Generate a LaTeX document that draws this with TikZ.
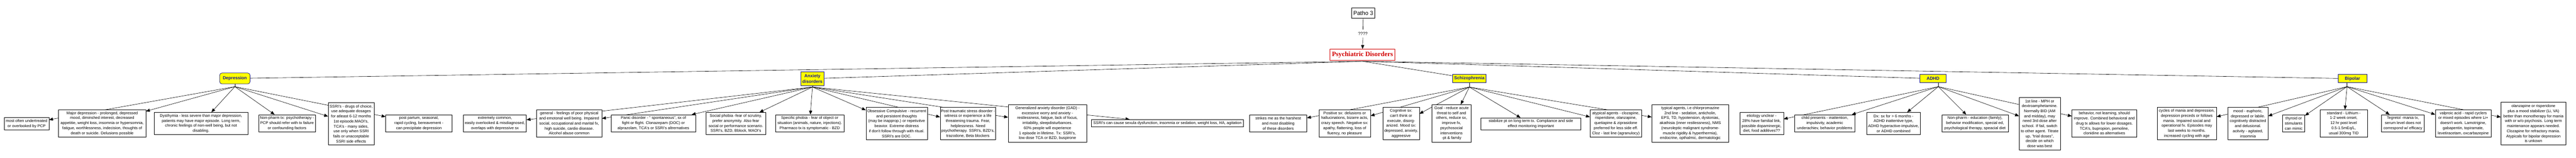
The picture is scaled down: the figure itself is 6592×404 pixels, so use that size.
\documentclass[tikz,border=0pt]{standalone}
\usepackage{fontspec}
\newfontfamily\arial{Liberation Sans}
\newfontfamily\pdfont{Liberation Serif}
\usetikzlibrary{arrows.meta}
\pgfdeclarelayer{bg}
\pgfdeclarelayer{canvas}
\pgfsetlayers{canvas,bg,main}
\definecolor{catblue}{RGB}{20,20,150}
\definecolor{catyellow}{RGB}{255,255,0}
\definecolor{pdred}{RGB}{210,0,0}
\tikzset{
 box/.style={draw=black, line width=0.8pt, fill=white, inner sep=0pt, align=center, font=\arial\fontsize{10}{12.8}\selectfont, text=black},
 cat/.style={draw=catblue, line width=1pt, fill=catyellow, inner sep=0pt, align=center, font=\arial\fontsize{11.3}{13.5}\selectfont\bfseries, text=catblue},
 conn/.style={line width=0.8pt, draw=black},
 arr/.style={conn, -{Triangle[length=10pt,width=8pt]}},
}
\begin{document}
\begin{tikzpicture}[x=1pt,y=-1pt]
\begin{pgfonlayer}{canvas}
\fill[white] (0,0) rectangle (6592,404);
\end{pgfonlayer}
\useasboundingbox (0,0) rectangle (6592,404);

% top
\node[box, font=\arial\fontsize{14.7}{16}\selectfont, minimum width=59pt, minimum height=27pt] (patho) at (3488.5,33.5) {Patho 3};
\node[inner xsep=2pt, inner ysep=6pt, font=\arial\fontsize{11}{12}\selectfont] (q) at (3487.5,86) {????};
\node[box, draw=pdred, line width=1pt, text=pdred, font=\pdfont\bfseries\fontsize{17}{19}\selectfont, minimum width=167pt, minimum height=29pt] (pd) at (3486.5,140.5) {Psychiatric Disorders};
\coordinate (pdF) at (3487,157);

% categories
\node[cat, rounded corners=6pt, minimum width=78pt, minimum height=28pt] (dep) at (601,201) {Depression};
\node[cat, minimum width=60pt, minimum height=35pt, font=\arial\fontsize{11.3}{13.5}\selectfont\bfseries] (anx) at (2079,201.5) {Anxiety\\disorders};
\node[cat, minimum width=86pt, minimum height=20pt] (sch) at (3760,201) {Schizophrenia};
\node[cat, minimum width=67pt, minimum height=21pt] (adhd) at (4946.5,201.5) {ADHD};
\node[cat, minimum width=74pt, minimum height=21pt] (bip) at (6020,201.5) {Bipolar};
\coordinate (depF) at (601,222);
\coordinate (anxF) at (2079,223);
\coordinate (schF) at (3760,223);
\coordinate (adhdF) at (4960,222);
\coordinate (bipF) at (6006,222);

% depression
\node[box, minimum width=114pt, minimum height=32pt] (often) at (68,317) {most often undertreated\\or overlooked by PCP};
\node[box, minimum width=223pt, minimum height=70pt] (major) at (261.5,316) {Major depression - prolonged, depressed\\mood, diminshed interest, decreased\\appetitie, weight loss, insomnia or hypersomnia,\\fatigue, worthlessness, indecision, thoughts of\\death or suicide. Delusions possible};
\node[box, minimum width=241pt, minimum height=57pt] (dysth) at (514.5,316.5) {Dysthymia - less severe than major depression,\\patients may have major episode. Long term,\\chronic feelings of non-well being, but not\\disabling.};
\node[box, minimum width=145pt, minimum height=44pt] (nonph) at (734.5,316) {Non-pharm tx: psychotherapy -\\PCP should refer with tx failure\\or confounding factors};
\node[box, minimum width=117pt, minimum height=108pt] (ssri) at (898.5,317) {SSRI's - drugs of choice,\\use adequate dosages\\for atleast 6-12 months\\1st episode.MAOI's,\\TCA's - many sides,\\use only when SSRI\\fails or unacceptable\\SSRI side effects};
\node[box, minimum width=170pt, minimum height=44pt] (post) at (1072,316) {post partum, seasonal,\\rapid cycling, bereavement -\\can precipitate depression};

% anxiety
\node[box, minimum width=161pt, minimum height=44pt] (extr) at (1266.5,316) {extremely common,\\easily overlooked \& misdiagnosed,\\overlaps with depressive sx};
\node[box, minimum width=167pt, minimum height=70pt] (gen) at (1456.5,316) {general - feelings of poor physical\\and emotonal well being. Impaired\\social, occupational and marital fx,\\high suicide, cardio disease.\\Alcohol abuse common};
\node[box, minimum width=216pt, minimum height=44pt] (panic) at (1672,316) {Panic disorder - " spontaneous", sx of\\fight or flight. Clonazepam (DOC) or\\alprazolam, TCA's or SSRI's altrernatives};
\node[box, minimum width=152pt, minimum height=57pt] (social) at (1883,316.5) {Social phobia -fear of scrutiny,\\prefer anonymity. Also fear\\social or performance scenario.\\SSRI's, BZD, Bblock, MAOI's};
\node[box, minimum width=176pt, minimum height=44pt] (spec) at (2072,316) {Specific phobia - fear of object or\\situation (animals, nature, injections).\\Pharmaco tx is symptomatic - BZD};
\node[box, minimum width=157pt, minimum height=83pt] (ocd) at (2294.5,316.5) {Obsessive Compulsive - recurrent\\and persistent thoughts\\(may be inapprop.) or repetivitve\\beavior. Extreme distress\\if don't follow through with ritual.\\SSRI's are DOC.};
\node[box, minimum width=142pt, minimum height=83pt] (ptsd) at (2477,316.5) {Post traumatic stress disorder -\\witness or experience a life\\threatening trauma. Fear,\\helplessness. Need\\psychotherapy. SSRI's, BZD's,\\trazodone, Beta blockers};
\node[box, minimum width=201pt, minimum height=96pt] (gad) at (2680.5,316) {Generalized anxiety disorder (GAD) -\\excessive worry and anxiety -\\restlessness, fatigue, lack of focus,\\irritability, sleepdisturbances.\\60\% people will experience\\1 episode in lifetime. Tx: SSRI's,\\low dose TCA or BZD, buspirone};
\node[box, minimum width=389pt, minimum height=19pt] (ssrise) at (2987.5,315.5) {SSRI's can cause sexula dysfunction, insomnia or sedation, weight loss, HA, agitation};

% schizophrenia
\node[box, minimum width=146pt, minimum height=44pt] (strikes) at (3271,316) {strikes me as the harshest\\and most disabling\\of these disorders};
\node[box, minimum width=132pt, minimum height=70pt] (pos) at (3441,316) {Positive sx: delusions or\\hallucinations, bizarre acts,\\crazy speech. Negative sx:\\apathy, flattening, loss of\\fluency, no pleasure};
\node[box, minimum width=93pt, minimum height=83pt] (cog) at (3585.5,316.5) {Cognitive sx:\\can't think or\\execute, disorg-\\anized. Mood sx:\\depressed, anxiety,\\aggreesive};
\node[box, minimum width=101pt, minimum height=96pt] (goal) at (3714.5,316) {Goal - reduce acute\\threat to self and\\others, reduce sx,\\improve fx,\\psychosocial\\interventions\\-pt \& family};
\node[box, minimum width=255pt, minimum height=31pt] (stab) at (3917.5,317.5) {stabilize pt on long term tx. Compliance and side\\effect monitoring important};
\node[box, minimum width=132pt, minimum height=70pt] (atyp) at (4135,316) {atypical agents - clozapine,\\risperidone, olanzapine,\\quetiapine \& ziprasidone\\preferred for less side eff.\\Cloz - last line (agranulocy)};
\node[box, minimum width=197pt, minimum height=96pt] (typ) at (4325.5,316) {typical agents, i.e chlorpromazine\\2nd line - sedation, anticholin,\\EPS, TD, hypotension, dystonias,\\akathisia (inner restlessness), NMS\\(neuroleptic malignant syndrome-\\muscle rigidity \& hyperthermia),\\endocrine, opthalmic, dermatologic};

% ADHD
\node[box, minimum width=112pt, minimum height=57pt] (etio) at (4508,316.5) {etiology unclear -\\28\% have familial link,\\possible dopaminergic,\\diet, food additives??};
\node[box, minimum width=155pt, minimum height=44pt] (child) at (4669.5,316) {child presents - inattention,\\impulsivity, academic\\underachiev, behavior problems};
\node[box, minimum width=137pt, minimum height=57pt] (dx) at (4845.5,316.5) {Dx: sx for > 6 months -\\ADHD inattentive type,\\ADHD hyperactive-impulsive,\\or ADHD combined};
\node[box, minimum width=170pt, minimum height=44pt] (npharm) at (5054,316) {Non-pharm - education (family),\\behavior modification, special ed,\\psychological therapy, speacial diet};
\node[box, minimum width=105pt, minimum height=135pt] (first) at (5219.5,316.5) {1st line - MPH or\\dextroamphetamine.\\Normally BID (AM\\and midday), may\\need 3rd dose after\\school. If fail, switch\\to other agent. Titrate\\up, "trial doses",\\decide on which\\dose was best};
\node[box, minimum width=166pt, minimum height=70pt] (behav) at (5385,316) {behavior, not learning, should\\improve. Combined behavioral and\\drug tx allows for lower dosages.\\TCA's, bupropion, pemoline,\\clonidine as alternatives};

% bipolar
\node[box, minimum width=152pt, minimum height=83pt] (cycles) at (5596,316.5) {cycles of mania and depression,\\depression preceds or follows\\mania. Impaired social and\\operational fx. Episodes may\\last weeks to months.\\increased cycling with age};
\node[box, minimum width=103pt, minimum height=83pt] (mood) at (5752.5,316.5) {mood - euphoric,\\depressed or labile.\\cognitively distracted\\and delusional.\\acitvity - agitated,\\insomnia};
\node[box, minimum width=57pt, minimum height=44pt] (thyr) at (5869.5,316) {thyroid or\\stimulants\\can mimic};
\node[box, minimum width=121pt, minimum height=70pt] (std) at (5997.5,316) {standard - Lithium -\\1-2 week onset,\\12 hr post level\\0.5-1.5mEq/L,\\usual 300mg TID};
\node[box, minimum width=110pt, minimum height=44pt] (teg) at (6149,316) {Tegretol -mania tx,\\serum level does not\\correspond w/ efficacy};
\node[box, minimum width=143pt, minimum height=70pt] (valp) at (6303.5,316) {valproic acid - rapid cyclers\\or mixed episodes where Li+\\doesn't work. Lamotrigine,\\gabapentin, topiramate,\\levetiracetam, oxcarbazepine};
\node[box, minimum width=166pt, minimum height=109pt] (olan) at (6483,316.5) {olanzapine or risperidone\\plus a mood stabilizer (Li, VA)\\better than monotherapy for mania\\with or w/o psychosis. Long term\\maintenance appears needed.\\Clozapine for refractory mania.\\Atypicals for bipolar depression\\is unkown};

\begin{pgfonlayer}{bg}
\draw[conn] (patho) -- (q);
\draw[arr] (q) -- (pd);
\foreach \c in {dep,anx,sch,adhd,bip} \draw[conn] (pdF) -- (\c);
\draw[conn] (dep.south) -- (depF);
\draw[conn] (anx.south) -- (anxF);
\draw[conn] (sch.south) -- (schF);
\draw[conn] (adhdF |- adhd.south) -- (adhdF);
\draw[conn] (bipF |- bip.south) -- (bipF);
\foreach \c in {often,major,dysth,nonph,ssri,post} \draw[arr] (depF) -- (\c);
\foreach \c in {extr,gen,panic,social,spec,ocd,ptsd,gad,ssrise} \draw[arr] (anxF) -- (\c);
\foreach \c in {strikes,pos,cog,goal,stab,atyp,typ} \draw[arr] (schF) -- (\c);
\foreach \c in {etio,child,dx,npharm,first,behav} \draw[arr] (adhdF) -- (\c);
\foreach \c in {cycles,mood,thyr,std,teg,valp,olan} \draw[arr] (bipF) -- (\c);
\end{pgfonlayer}
\end{tikzpicture}
\end{document}
